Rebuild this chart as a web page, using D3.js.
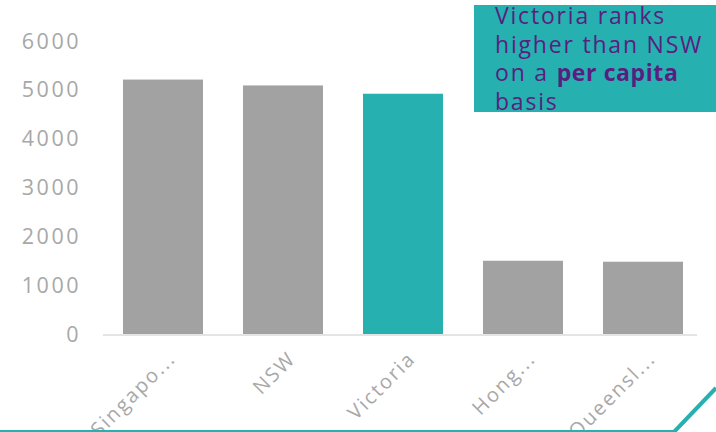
<!DOCTYPE html>
<html>
<head>
<meta charset="utf-8">
<script src="https://cdn.jsdelivr.net/npm/d3@7"></script>
<style>
  body { margin: 0; background: #fff; }
  svg { display: block; }
</style>
</head>
<body>
<div id="chart"></div>
<script>
const categories = ["Singapo...", "NSW", "Victoria", "Hong...", "Queensl..."];
const values = [5210, 5090, 4920, 1500, 1480];
const highlight = ["Victoria"];
const yTicks = [0, 1000, 2000, 3000, 4000, 5000, 6000];
const noteLines = [
  [["Victoria ranks", false]],
  [["higher than NSW", false]],
  [["on a ", false], ["per capita", true]],
  [["basis", false]],
];

const W = 716, H = 432;
const gray = "#a2a2a2", teal = "#26b0b0", purple = "#5a1e80";

let svg = d3.select("#chart")
  .append("svg")
  .attr("width", W)
  .attr("height", H);

let x = d3.scaleBand()
  .domain(categories)
  .range([103, 703])
  .paddingInner(1 / 3)
  .paddingOuter(1 / 6);

let y = d3.scaleLinear()
  .domain([0, 6000])
  .range([334, 41]);

// baseline
svg.append("line")
  .attr("x1", 103).attr("x2", 697)
  .attr("y1", y(0) + 1).attr("y2", y(0) + 1)
  .attr("stroke", "#e4e4e4")
  .attr("stroke-width", 2);

// y tick labels
svg.append("g")
  .selectAll("text")
  .data(yTicks)
  .enter()
  .append("text")
  .text((d) => d)
  .attr("x", 81)
  .attr("y", (d) => y(d))
  .attr("dy", "0.35em")
  .attr("text-anchor", "end")
  .attr("fill", "#a8a8a8")
  .style("font-family", "'Open Sans', sans-serif")
  .style("font-weight", 400)
  .style("font-size", "21.5px")
  .style("letter-spacing", "2.5px");

// bars
svg.append("g")
  .selectAll("rect")
  .data(categories)
  .enter()
  .append("rect")
  .attr("x", (d) => x(d))
  .attr("width", x.bandwidth())
  .attr("y", (d, i) => y(values[i]))
  .attr("height", (d, i) => y(0) - y(values[i]))
  .attr("fill", (d) => highlight.includes(d) ? teal : gray);

// category labels
svg.append("g")
  .selectAll("text")
  .data(categories)
  .enter()
  .append("text")
  .text((d) => d)
  .attr("transform", (d) => `translate(${x(d) + x.bandwidth() / 2 + 4},${y(0) + 16}) rotate(-45)`)
  .attr("dy", "0.7em")
  .attr("text-anchor", "end")
  .attr("fill", "#a8a8a8")
  .style("font-family", "'Open Sans', sans-serif")
  .style("font-weight", 400)
  .style("font-size", "20px")
  .style("letter-spacing", "2px");

// bottom decoration line
svg.append("path")
  .attr("d", `M0,431 L674,431`)
  .attr("stroke", teal)
  .attr("stroke-width", 2)
  .attr("fill", "none");
svg.append("path")
  .attr("d", `M674,432 L716,388`)
  .attr("stroke", teal)
  .attr("stroke-width", 4)
  .attr("fill", "none");

// annotation box
let box = { x: 474, y: 5, w: 242, h: 107 };
svg.append("clipPath")
  .attr("id", "boxclip")
  .append("rect")
  .attr("x", box.x).attr("y", box.y)
  .attr("width", box.w).attr("height", box.h);
svg.append("rect")
  .attr("x", box.x).attr("y", box.y)
  .attr("width", box.w).attr("height", box.h)
  .attr("fill", teal);

let note = svg.append("text")
  .attr("clip-path", "url(#boxclip)")
  .attr("fill", purple)
  .style("font-family", "'Open Sans', sans-serif")
  .style("font-size", "23px")
  .style("letter-spacing", "1.8px");
noteLines.forEach((line, i) => {
  let first = true;
  line.forEach(([txt, bold]) => {
    let t = note.append("tspan").text(txt)
      .style("font-weight", bold ? 700 : 400)
      .style("letter-spacing", bold ? "0.6px" : null);
    if (first) {
      t.attr("x", 495).attr("y", 24 + i * 28.5);
      first = false;
    }
  });
});
</script>
</body>
</html>
